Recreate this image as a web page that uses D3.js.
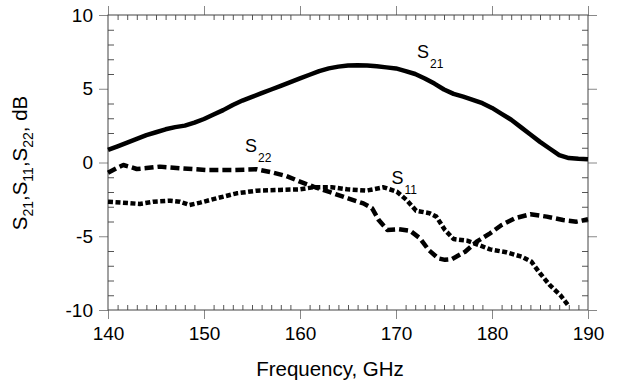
<!DOCTYPE html>
<html><head><meta charset="utf-8">
<script src="https://cdn.jsdelivr.net/npm/d3@7"></script>
<style>body{margin:0;background:#fff}svg{display:block}text{font-family:"Liberation Sans",Arial,sans-serif}</style>
</head><body>
<script>
// ---- data ----
const xTicks = [140,150,160,170,180,190];
const yTicks = [-10,-5,0,5,10];
const s21Freq = [140,141,142,143,144,145,146,147,148,149,150,151,152,153,154,155,156,157,158,159,160,161,162,163,164,165,166,167,168,169,170,171,172,173,174,175,176,177,178,179,180,181,182,183,184,185,186,187,188,189,190];
const s21dB   = [0.85,1.1,1.35,1.6,1.85,2.05,2.25,2.4,2.5,2.7,2.95,3.25,3.55,3.9,4.2,4.45,4.7,4.95,5.2,5.45,5.7,5.95,6.2,6.38,6.5,6.58,6.6,6.58,6.52,6.45,6.38,6.2,6.0,5.7,5.35,4.95,4.65,4.46,4.25,4.02,3.7,3.3,2.9,2.4,1.9,1.4,0.95,0.5,0.3,0.25,0.22];
const s22Freq = [140,141,141.6,142.3,143,144,145.4,147.8,150.3,153.1,155.5,157.2,158.6,160,161.4,163.3,165,166.6,167.5,168.2,169.1,170.3,171.5,172.5,173.4,174.4,175.1,175.8,177.2,178.4,179.8,181,182.4,184,185.7,187.4,188.8,190];
const s22dB   = [-0.69,-0.35,-0.17,-0.3,-0.44,-0.38,-0.28,-0.40,-0.51,-0.51,-0.46,-0.69,-0.92,-1.3,-1.64,-2.05,-2.43,-2.77,-3.1,-3.9,-4.58,-4.53,-4.64,-5.14,-5.93,-6.5,-6.6,-6.56,-6.05,-5.37,-4.8,-4.24,-3.78,-3.51,-3.67,-3.9,-4.01,-3.85];
const s11Freq = [140,141.5,143.3,144.7,146.5,147.5,148.5,149.6,151.3,153.4,155.5,157.9,160,161.4,163.3,164.9,166.9,168.7,170.1,171.1,172.1,173.5,174.2,175.1,176,177.4,178.6,179.8,181.5,183.1,184.1,185,186,187.1,187.9];
const s11dB   = [-2.66,-2.72,-2.81,-2.66,-2.59,-2.66,-2.88,-2.72,-2.43,-2.09,-1.91,-1.86,-1.82,-1.68,-1.68,-1.82,-1.91,-1.68,-1.98,-2.54,-3.27,-3.44,-3.67,-4.58,-5.19,-5.3,-5.59,-5.89,-6.09,-6.39,-6.72,-7.51,-8.3,-8.98,-9.66];

const W = 617, H = 383;
const L = 108, R = 588, T = 15, B = 310;
const svg = d3.select("body").append("svg").attr("width", W).attr("height", H);
const x = d3.scaleLinear().domain([140,190]).range([L,R]);
const y = d3.scaleLinear().domain([-10,10]).range([B,T]);
const xMinor = d3.range(140,191,1).filter(v => v % 10 !== 0);
const yMinor = d3.range(-10,11,1).filter(v => v % 5 !== 0);
const fmt = d => String(d);

function styleAxis(g, col){ g.select(".domain").remove(); g.selectAll(".tick line").attr("stroke", col).attr("stroke-width",1); }

// minor ticks (inward)
svg.append("g").attr("transform",`translate(0,${B})`).call(d3.axisBottom(x).tickValues(xMinor).tickSize(-5).tickFormat("")).call(g=>styleAxis(g,"#555"));
svg.append("g").attr("transform",`translate(0,${T})`).call(d3.axisTop(x).tickValues(xMinor).tickSize(-5).tickFormat("")).call(g=>styleAxis(g,"#555"));
svg.append("g").attr("transform",`translate(${L},0)`).call(d3.axisLeft(y).tickValues(yMinor).tickSize(-6).tickFormat("")).call(g=>styleAxis(g,"#555"));
svg.append("g").attr("transform",`translate(${R},0)`).call(d3.axisRight(y).tickValues(yMinor).tickSize(-6).tickFormat("")).call(g=>styleAxis(g,"#555"));

// major ticks (outward)
const gx = svg.append("g").attr("transform",`translate(0,${B})`).call(d3.axisBottom(x).tickValues(xTicks).tickSize(9).tickPadding(8).tickFormat(fmt));
styleAxis(gx,"#888");
gx.selectAll("text").attr("font-size",19).attr("fill","#000").attr("font-family","Liberation Sans, Arial, sans-serif");
const gy = svg.append("g").attr("transform",`translate(${L},0)`).call(d3.axisLeft(y).tickValues(yTicks).tickSize(9).tickPadding(6).tickFormat(fmt));
styleAxis(gy,"#888");
gy.selectAll("text").attr("font-size",19).attr("fill","#000").attr("font-family","Liberation Sans, Arial, sans-serif");
svg.append("g").attr("transform",`translate(0,${T})`).call(d3.axisTop(x).tickValues(xTicks).tickSize(9).tickFormat("")).call(g=>styleAxis(g,"#888"));
svg.append("g").attr("transform",`translate(${R},0)`).call(d3.axisRight(y).tickValues(yTicks).tickSize(9).tickFormat("")).call(g=>styleAxis(g,"#888"));

// frame
svg.append("rect").attr("x",L).attr("y",T).attr("width",R-L).attr("height",B-T).attr("fill","none").attr("stroke","#444").attr("stroke-width",1);

// curves
const line = d3.line().x(d=>x(d[0])).y(d=>y(d[1]));
const series = [
  {f:s21Freq, v:s21dB, dash:null, w:4.5},
  {f:s22Freq, v:s22dB, dash:"9,4", w:4.5},
  {f:s11Freq, v:s11dB, dash:"5,2.5", w:4.5}
];
series.forEach(s=>{
  svg.append("path").datum(d3.zip(s.f,s.v)).attr("d",line).attr("fill","none").attr("stroke","#000")
    .attr("stroke-width",s.w).attr("stroke-dasharray",s.dash).attr("stroke-linejoin","round");
});

// curve labels
function sLabel(px,py,sub){
  const t = svg.append("text").attr("x",px).attr("y",py).attr("font-size",18).attr("fill","#000");
  t.append("tspan").attr("fill","#000").text("S");
  t.append("tspan").attr("fill","#000").attr("font-size",12).attr("dy",10).attr("dx",1).text(sub);
}
sLabel(417,57.5,"21");
sLabel(245,151.5,"22");
sLabel(391.5,184,"11");

// axis titles
svg.append("text").attr("x",(L+R)/2-18).attr("y",376).attr("text-anchor","middle").attr("font-size",20.5).attr("fill","#000").text("Frequency, GHz");
const yt = svg.append("text").attr("transform","translate(33,163) rotate(-90)").attr("text-anchor","middle").attr("font-size",20.5).attr("fill","#000");
const parts = [["S","21"],[",S","11"],[",S","22"],[", dB",null]];
parts.forEach(p=>{
  yt.append("tspan").attr("dy", yt.selectAll("tspan").size()? -6:0).text(p[0]);
  if(p[1]) yt.append("tspan").attr("font-size",14).attr("dy",6).text(p[1]);
});
</script>
</body></html>
